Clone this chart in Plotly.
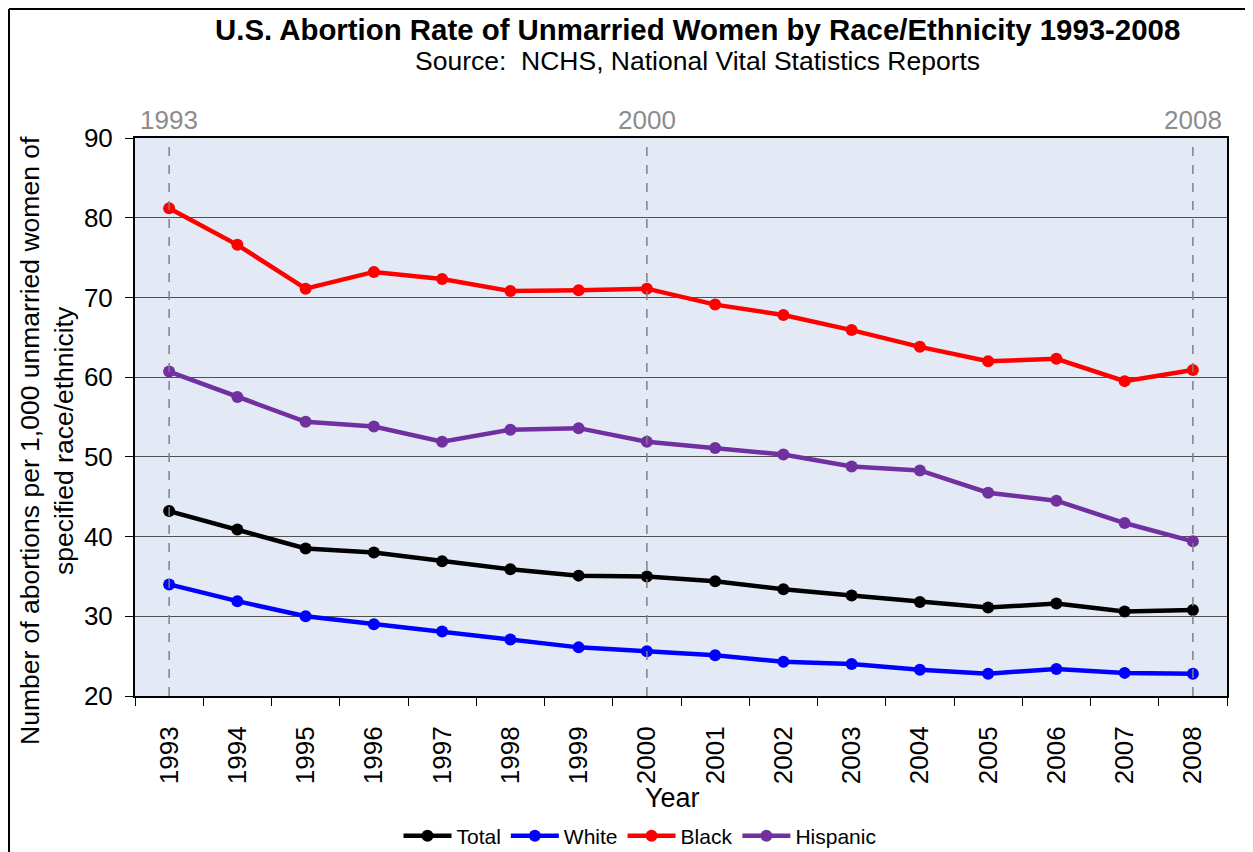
import plotly.graph_objects as go

years = list(range(1993, 2009))
total = [43.2, 40.9, 38.5, 38.0, 36.9, 35.9, 35.1, 35.0, 34.4, 33.4, 32.6, 31.8, 31.1, 31.6, 30.6, 30.8]
white = [34.0, 31.9, 30.0, 29.0, 28.1, 27.1, 26.1, 25.6, 25.1, 24.3, 24.0, 23.3, 22.8, 23.4, 22.9, 22.8]
black = [81.2, 76.6, 71.1, 73.2, 72.3, 70.8, 70.9, 71.1, 69.1, 67.8, 65.9, 63.8, 62.0, 62.3, 59.5, 60.9]
hispanic = [60.7, 57.5, 54.4, 53.8, 51.9, 53.4, 53.6, 51.9, 51.1, 50.3, 48.8, 48.3, 45.5, 44.5, 41.7, 39.4]
marked_years = [1993, 2000, 2008]

series = [
    ("Total", total, "#000000"),
    ("White", white, "#0000FF"),
    ("Black", black, "#FF0000"),
    ("Hispanic", hispanic, "#7030A0"),
]

font = "Liberation Sans, Arial, sans-serif"

# area do gráfico na imagem de referência: x 135..1227, y 138..696
def px(x):
    return (x - 135) / 1092

def py(y):
    return (696 - y) / 558

def label(text, x, y, size, bold=False, color="#000000", angle=0):
    fig.add_annotation(x=px(x), y=py(y), xref="paper", yref="paper",
                       xanchor="center", yanchor="middle", textangle=angle,
                       text=f"<b>{text}</b>" if bold else text, showarrow=False,
                       font=dict(size=size, color=color, family=font))

fig = go.Figure()
for name, vals, color in series:
    fig.add_trace(go.Scatter(
        x=years, y=vals, name=name, mode="lines+markers",
        line=dict(color=color, width=4.5),
        marker=dict(color=color, size=12),
    ))

# linhas verticais tracejadas nos anos marcados
for yr in marked_years:
    fig.add_shape(type="line", xref="x", yref="paper", x0=yr, x1=yr, y0=0, y1=py(143),
                  line=dict(color="#808080", width=1.5, dash="dash"))
    fig.add_annotation(x=yr, y=py(120), xref="x", yref="paper", xanchor="center", yanchor="middle",
                       text=str(yr), showarrow=False, font=dict(size=26, color="#8C8C8C", family=font))

# borda superior e esquerda
fig.add_shape(type="line", xref="paper", yref="paper", x0=px(9), x1=px(1260), y0=py(9), y1=py(9),
              line=dict(color="#000000", width=2))
fig.add_shape(type="line", xref="paper", yref="paper", x0=px(9), x1=px(9), y0=py(9), y1=py(870),
              line=dict(color="#000000", width=2))

label("U.S. Abortion Rate of Unmarried Women by Race/Ethnicity 1993-2008", 697, 30, 29.4, bold=True)
label("Source:  NCHS, National Vital Statistics Reports", 697, 61, 26.5)
label("Number of abortions per 1,000 unmarried women of<br>specified race/ethnicity", 47, 441, 26.5, angle=-90)
label("Year", 672, 798, 27)

fig.update_layout(
    width=1245, height=844,
    margin=dict(l=127, r=26, t=130, b=156),
    paper_bgcolor="white",
    plot_bgcolor="#E4EAF5",
    font=dict(family=font, size=26, color="#000000"),
    showlegend=True,
    legend=dict(orientation="h", x=px(640), xanchor="center",
                yref="container", y=1 - (836 - 8) / 844, yanchor="middle",
                font=dict(size=21), tracegroupgap=0, itemwidth=48, bgcolor="rgba(0,0,0,0)"),
    xaxis=dict(
        range=[1992.5, 2008.5], tickmode="array", tickvals=years, tickangle=-90,
        ticks="outside", ticklen=10, tickcolor="rgba(0,0,0,0)", ticklabelstandoff=8,
        minor=dict(tickvals=[y - 0.5 for y in years] + [2008.5], ticks="outside",
                   ticklen=8, tickcolor="#000000", tickwidth=1, showgrid=False),
        showgrid=False, zeroline=False, showline=True,
        linecolor="#000000", linewidth=2, mirror=True, automargin=False,
        tickfont=dict(size=26),
    ),
    yaxis=dict(
        range=[20, 90], dtick=10, ticks="outside", ticklen=8, tickcolor="#000000",
        ticklabelstandoff=7,
        showgrid=True, gridcolor="#505050", gridwidth=1, showline=True,
        linecolor="#000000", linewidth=2, mirror=True, zeroline=False, automargin=False,
        tickfont=dict(size=26),
    ),
)

fig.write_html("out.html")
